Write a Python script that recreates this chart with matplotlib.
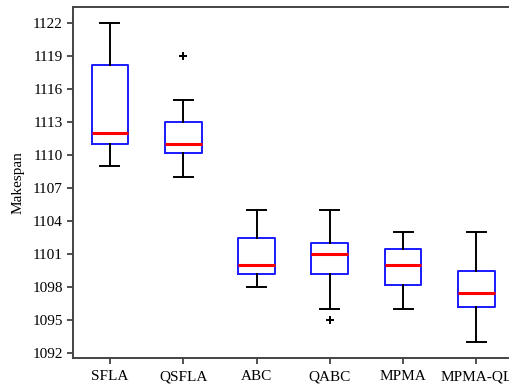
import matplotlib
matplotlib.use('Agg')
import matplotlib.pyplot as plt

# box statistics
algorithms = ['SFLA', 'QSFLA', 'ABC', 'QABC', 'MPMA', 'MPMA-QL']
whisker_low = [1109, 1108, 1098, 1096, 1096, 1093]
q1 = [1111, 1110.25, 1099.25, 1099.25, 1098.2, 1096.25]
median = [1112, 1111, 1100, 1101, 1100, 1097.5]
q3 = [1118.25, 1113, 1102.5, 1102, 1101.5, 1099.5]
whisker_high = [1122, 1115, 1105, 1105, 1103, 1103]
outliers = [[], [1119], [], [1095], [], []]

plt.rcParams['font.family'] = ['Liberation Serif', 'DejaVu Serif']

stats = []
for i, name in enumerate(algorithms):
    stats.append({
        'label': name,
        'whislo': whisker_low[i],
        'q1': q1[i],
        'med': median[i],
        'q3': q3[i],
        'whishi': whisker_high[i],
        'fliers': outliers[i],
    })

fig = plt.figure(figsize=(5.1, 3.89), dpi=100)
ax = fig.add_axes([0.1437, 0.0797, 1.006 - 0.1437, 0.982 - 0.0797])

ax.bxp(stats, widths=0.5, capwidths=0.26,
       boxprops=dict(color='#1a1aff', linewidth=1.4),
       medianprops=dict(color='red', linewidth=2.2),
       whiskerprops=dict(color='black', linewidth=1.4),
       capprops=dict(color='black', linewidth=1.4),
       flierprops=dict(marker='+', markeredgecolor='black', markersize=6, markeredgewidth=1.4))

ax.set_ylim(1091.57, 1123.48)
ax.set_xlim(0.5, 6.5)
ax.set_yticks(range(1092, 1123, 3))
ax.set_ylabel('Makespan', fontsize=11, labelpad=6)
ax.tick_params(axis='both', labelsize=11, direction='out', length=4, width=1.2, colors='#333333', labelcolor='black')
ax.tick_params(axis='x', pad=5)
for side in ['left', 'bottom', 'top']:
    ax.spines[side].set_linewidth(1.4)
    ax.spines[side].set_color('#444444')
ax.spines['right'].set_visible(False)

fig.savefig('out.png', dpi=100)
